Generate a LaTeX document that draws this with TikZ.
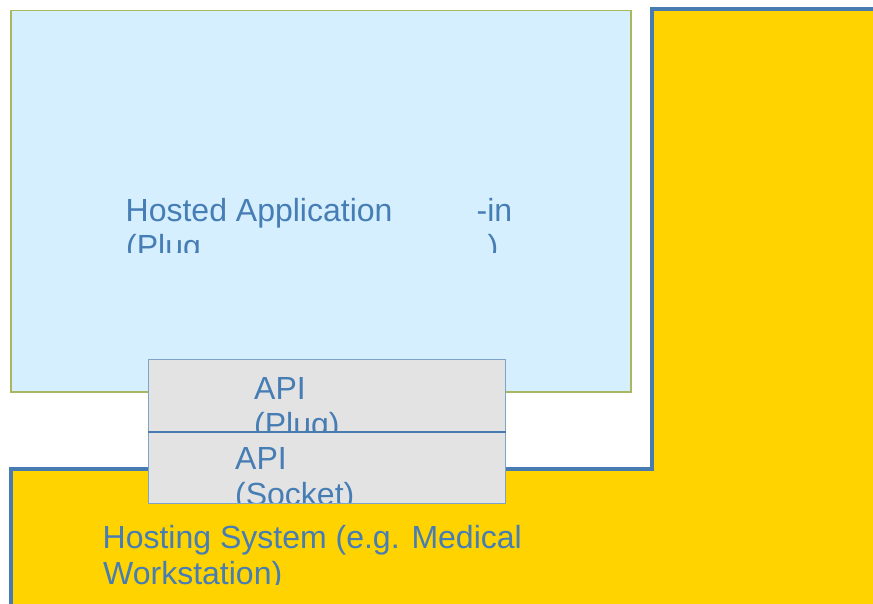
\documentclass[tikz,border=0pt]{standalone}
\usepackage{fontspec}
\setmainfont{Liberation Sans}
\definecolor{txtblue}{RGB}{70,125,180}
\definecolor{edgeblue}{RGB}{72,124,176}
\definecolor{hostyellow}{RGB}{255,211,0}
\definecolor{applight}{RGB}{213,239,254}
\definecolor{olive}{RGB}{168,184,96}
\definecolor{apigray}{RGB}{227,227,227}
\begin{document}
\begin{tikzpicture}[x=1pt,y=-1pt,
  lbl/.style={anchor=base west,inner sep=0pt,text=txtblue,font=\fontsize{32}{36}\selectfont},
  apibox/.style={fill=apigray,draw=edgeblue!70,line width=1pt}]
\useasboundingbox (0,0) rectangle (873,604);
\fill[white] (0,0) rectangle (873,604);
% hosting system L shape
\filldraw[fill=hostyellow,draw=edgeblue,line width=4pt]
  (10.7,610) -- (10.7,469) -- (652,469) -- (652,8.7) -- (880,8.7) -- (880,610) -- cycle;
% hosted application
\node[draw=olive,fill=applight,line width=1.5pt,inner sep=0pt,minimum width=620pt,minimum height=381pt,anchor=north west] (app) at (10,10) {};
\begin{scope}
\clip (0,0) rectangle (873,253);
\node[lbl] (t1) at (125.5,222) {Hosted Application};
\node[lbl] (t2) at (476.5,222) {-in};
\node[lbl] (t3) at (126,258) {(Plug};
\node[lbl] (t4) at (487.5,258) {)};
\end{scope}
% API boxes
\node[apibox,inner sep=0pt,minimum width=357pt,minimum height=72pt,anchor=north west] (plug) at (148,359) {};
\node[apibox,inner sep=0pt,minimum width=357pt,minimum height=72pt,anchor=north west] (socket) at (148,431) {};
\draw[edgeblue,line width=1.2pt] (plug.south west) -- (plug.south east);
\begin{scope}
\clip (148,359) rectangle (505,430.5);
\node[lbl] (p1) at (254,399) {API};
\node[lbl] (p2) at (254,435) {(Plug)};
\end{scope}
\begin{scope}
\clip (148,431) rectangle (505,502.5);
\node[lbl] (s1) at (235,469) {API};
\node[lbl] (s2) at (235,505) {(Socket)};
\end{scope}
\begin{scope}
\clip (0,460) rectangle (873,584);
\node[lbl] (h1) at (102.5,548) {Hosting System (e.g. Medical};
\node[lbl] (h2) at (103,584) {Workstation)};
\end{scope}
\end{tikzpicture}
\end{document}
